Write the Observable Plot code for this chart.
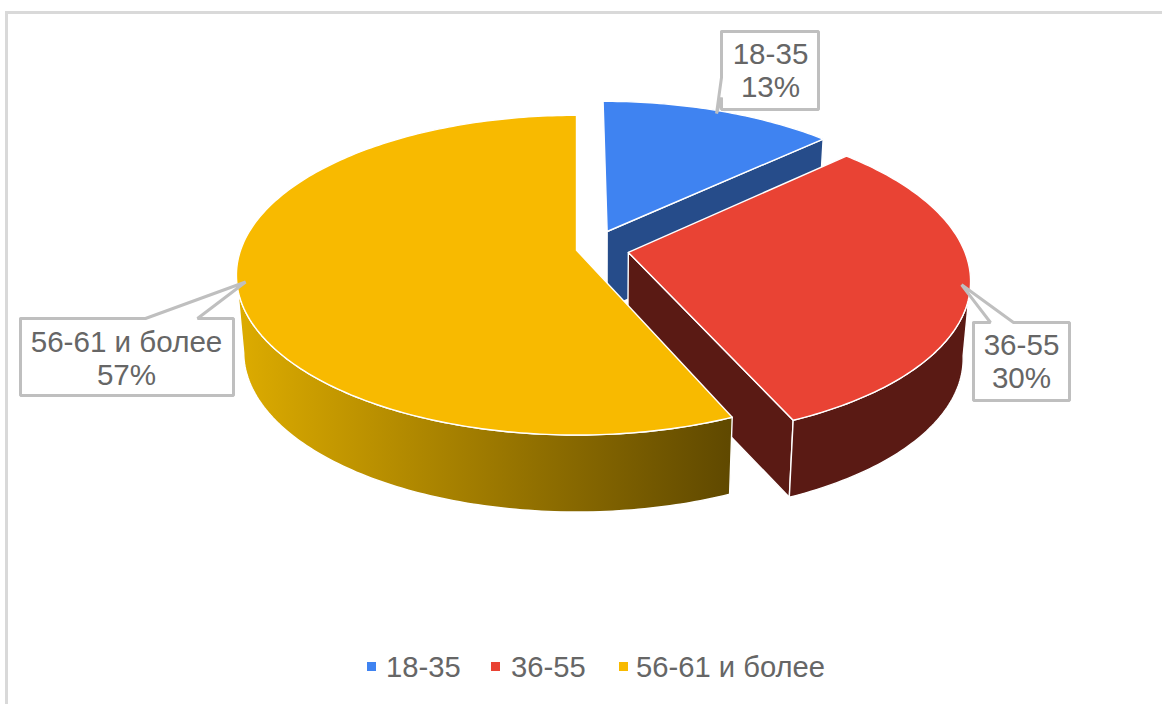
<!DOCTYPE html>
<html lang="ru">
<head>
<meta charset="utf-8">
<script src="https://cdn.jsdelivr.net/npm/d3@7"></script>
<script src="https://cdn.jsdelivr.net/npm/@observablehq/plot@0.6"></script>
<style>
html,body{margin:0;padding:0;background:#fff;overflow:hidden}
#frame{position:absolute;left:5px;top:11px;right:0;bottom:0;border-top:3px solid #d9d9d9;border-left:3px solid #d9d9d9;pointer-events:none}
#chart{position:absolute;left:0;top:0}
#legend{position:absolute;left:0;top:640px;width:1162px;height:56px;font:29.2px "Liberation Sans",Arial,sans-serif;color:#666}
#legend .sw{position:absolute;top:22px;width:9px;height:9px}
#legend .tx{position:absolute;top:11px;line-height:32px;white-space:nowrap}
</style>
</head>
<body>
<div id="chart"></div>
<div id="legend"></div>
<div id="frame"></div>
<script>
// ---- data ----
const categories = ["18-35", "36-55", "56-61 и более"];
const shares = [13.1, 30.4, 56.5];

// ---- styling ----
const topColors = ["#3f83f1", "#e94334", "#f8ba00"];
const wallColors = ["#264c8a", "#5a1a14", "url(#yellowWall)"];
const cutColors = ["#264c8a", "#5a1a14", "#f8ba00"];
const explodeU = [0.093, 0.154, 0];
const explodeV = [-0.124, 0.012, -0.002];
const legendSwatchX = [367, 491, 619];
const legendTextX = [386, 511, 636];
// callout boxes [left, top, right, bottom], side holding the wedge, wedge base
const boxes = [
  {l: 721, t: 31, r: 818, b: 109, side: "left", a: 77, c: 97, cx: 770, lines: [54, 87]},
  {l: 973, t: 322, r: 1069, b: 400, side: "top", a: 990, c: 1013, cx: 1021, lines: [345, 378]},
  {l: 20, t: 318, r: 233, b: 395, side: "top", a: 145, c: 197, cx: 126, lines: [342, 375]}
];

// ---- perspective view of the pie ----
const cx = 576, R = 336, persp = -0.15625, yA = 117, yB = 250;
const depth = 77, vanishX = 600, shrink = 0.98;
function project(i, r, angle) {
  const u = r * Math.sin(angle) + explodeU[i];
  const v = -r * Math.cos(angle) + explodeV[i];
  const w = 1 + persp * v;
  return [cx + R * u / w, (yA * v + yB) / w];
}
const lower = ([x, y]) => [vanishX + (x - vanishX) * shrink, y + depth];
const arcs = d3.pie().sort(null).value(d => d)(shares);
function arcPts(i, a0, a1) {
  const n = Math.max(2, Math.ceil((a1 - a0) * 60));
  return d3.range(n + 1).map(k => project(i, 1, a0 + (a1 - a0) * k / n));
}
const close = pts => [...pts, pts[0]];
const poly = (pts, fill, strokeWidth = 1.4) =>
  Plot.line(close(pts), {x: d => d[0], y: d => d[1], fill, stroke: "#fff", strokeWidth, strokeLinejoin: "round"});

const marks = [];
marks.push(() => {
  const defs = d3.create("svg:defs");
  const g = defs.append("linearGradient").attr("id", "yellowWall")
    .attr("gradientUnits", "userSpaceOnUse")
    .attr("x1", 240).attr("x2", 728).attr("y1", 0).attr("y2", 0);
  g.append("stop").attr("offset", 0).attr("stop-color", "#dcab00");
  g.append("stop").attr("offset", 1).attr("stop-color", "#604900");
  return defs.node();
});

arcs.forEach((arc, i) => {
  const apex = project(i, 0, 0);
  const rim = arcPts(i, arc.startAngle, arc.endAngle);
  const end = rim[rim.length - 1];
  // cut face on the clockwise end of the slice
  marks.push(poly([apex, end, lower(end), lower(apex)], wallColors[i] === "url(#yellowWall)" ? "none" : cutColors[i]));
  // outer face: only the part of the rim that faces the viewer
  const front = d3.range(rim.length)
    .filter(k => -Math.cos(arc.startAngle + (arc.endAngle - arc.startAngle) * k / (rim.length - 1)) > 0.15)
    .map(k => rim[k]);
  if (front.length > 1) marks.push(poly([...front, ...front.slice().reverse().map(lower)], wallColors[i]));
  // top face
  marks.push(poly([apex, ...rim], topColors[i]));
});

// callouts: the wedge points at the middle of each slice
arcs.forEach((arc, i) => {
  const tip = project(i, 0.975, (arc.startAngle + arc.endAngle) / 2);
  const b = boxes[i];
  const pts = b.side === "left"
    ? [[b.l, b.t], [b.r, b.t], [b.r, b.b], [b.l, b.b], [b.l, b.c], tip, [b.l, b.a]]
    : [[b.l, b.t], [b.a, b.t], tip, [b.c, b.t], [b.r, b.t], [b.r, b.b], [b.l, b.b]];
  marks.push(Plot.line(close(pts), {x: d => d[0], y: d => d[1], fill: "#fff", stroke: "#bfbfbf", strokeWidth: 3, strokeLinejoin: "miter"}));
  const lines = [categories[i], Math.round(shares[i]) + "%"];
  marks.push(Plot.text(lines, {
    x: () => b.cx, y: (d, k) => b.lines[k], text: d => d,
    fontSize: 29.6, fill: "#666", textAnchor: "middle", lineAnchor: "middle",
    fontFamily: "Liberation Sans"
  }));
});

const chart = Plot.plot({
  width: 1162, height: 640,
  margin: 0,
  x: {type: "linear", domain: [0, 1162], range: [0, 1162], axis: null},
  y: {type: "linear", domain: [0, 640], range: [0, 640], axis: null},
  style: {background: "transparent", fontFamily: "Liberation Sans"},
  marks
});
document.getElementById("chart").append(chart);

const legend = document.getElementById("legend");
categories.forEach((c, i) => {
  const s = document.createElement("div");
  s.className = "sw"; s.style.left = legendSwatchX[i] + "px"; s.style.background = topColors[i];
  const t = document.createElement("div");
  t.className = "tx"; t.style.left = legendTextX[i] + "px"; t.textContent = c;
  legend.append(s, t);
});
</script>
</body>
</html>
